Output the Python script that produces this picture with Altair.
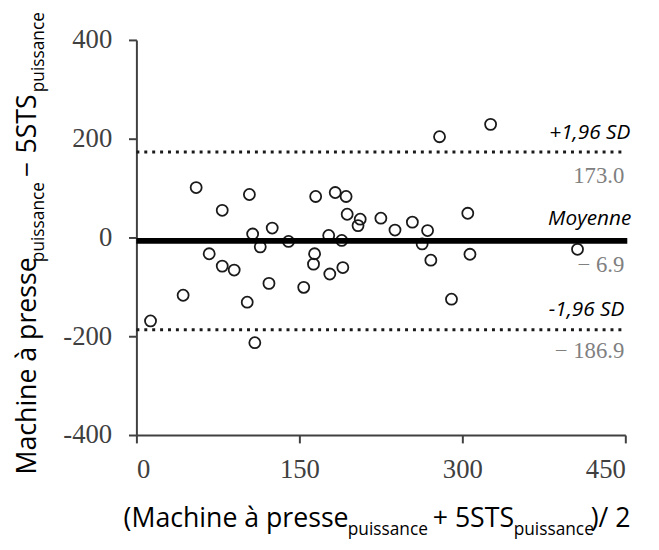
import altair as alt
import pandas as pd

# ---- data ----
avg_values = [55, 79, 104, 165, 183, 193, 194, 204, 206, 225, 238, 254,
              107, 125, 177, 189, 140, 114, 67, 79, 90, 43, 13, 102,
              109, 122, 154, 164, 163, 178, 190, 279, 326, 268, 263, 271,
              305, 307, 290, 406]
diff_values = [101, 55, 87, 83, 91, 83, 47, 24, 37, 39, 15, 31,
               7, 19, 4, -6, -8, -19, -33, -58, -66, -117, -169, -131,
               -213, -93, -101, -33, -54, -74, -61, 204, 229, 14, -13, -46,
               49, -34, -125, -24]
MEAN = -6.9
UPPER = 173.0
LOWER = -186.9
x_ticks = [0, 150, 300, 450]
y_ticks = [-400, -200, 0, 200, 400]

W, H = 495, 400
pts = pd.DataFrame({"avg": avg_values, "diff": diff_values})

xs = alt.Scale(domain=[0, 450], nice=False, zero=False)
ys = alt.Scale(domain=[-400, 400], nice=False, zero=False)
x_axis = alt.Axis(values=x_ticks, title=None, labelPadding=14, labelExpr="'' + datum.value")
y_axis = alt.Axis(values=y_ticks, title=None, labelPadding=17, labelExpr="'' + datum.value")

points = alt.Chart(pts).mark_point(
    shape="circle", filled=False, size=125, strokeWidth=1.8,
    color="#1a1a1a", opacity=1
).encode(
    x=alt.X("avg:Q", scale=xs, axis=x_axis),
    y=alt.Y("diff:Q", scale=ys, axis=y_axis),
)

mean_rule = alt.Chart(pd.DataFrame({"v": [MEAN]})).mark_rule(
    strokeWidth=6, color="#000000"
).encode(y=alt.Y("v:Q", scale=ys, axis=y_axis), x=alt.value(0), x2=alt.value(W + 2))

sd_rules = alt.Chart(pd.DataFrame({"v": [UPPER, LOWER]})).mark_rule(
    strokeWidth=3, strokeDash=[3, 5], color="#1a1a1a"
).encode(y=alt.Y("v:Q", scale=ys, axis=y_axis), x=alt.value(0), x2=alt.value(W))

layers = [points, sd_rules, mean_rule]

# labels of the reference lines
sd_labels = [("+1,96 SD", UPPER, -19, W + 5), ("Moyenne", MEAN, -22, W + 6), ("-1,96 SD", LOWER, -20, W - 1)]
num_labels = [("173.0", UPPER, 24, W - 1), ("− 6.9", MEAN, 25, W - 1), ("− 186.9", LOWER, 22, W - 1)]

for txt, v, dy, xr in sd_labels:
    layers.append(
        alt.Chart(pd.DataFrame({"v": [v], "t": [txt]})).mark_text(
            align="right", baseline="middle", dy=dy, font="Open Sans", fontSize=21,
            fontStyle="italic", color="#000000"
        ).encode(y=alt.Y("v:Q", scale=ys, axis=y_axis), x=alt.value(xr), text="t:N")
    )
for txt, v, dy, xr in num_labels:
    layers.append(
        alt.Chart(pd.DataFrame({"v": [v], "t": [txt]})).mark_text(
            align="right", baseline="middle", dy=dy, font="Liberation Serif", fontSize=23,
            color="#808080"
        ).encode(y=alt.Y("v:Q", scale=ys, axis=y_axis), x=alt.value(xr), text="t:N")
    )

# axis titles with subscripts (pieces)
BIG, SUB = 27, 17.5
x_title = [("(Machine à presse", -13, 493, BIG), ("puissance", 214, 501, SUB),
           ("+ 5STS", 300, 493, BIG), ("puissance", 382, 501, SUB), (")/ 2", 460, 493, BIG)]
y_title = [("Machine à presse", -102, 440, BIG), ("puissance", -94, 225, SUB),
           ("−", -102, 139, BIG), ("5STS", -102, 115, BIG), ("puissance", -94, 53, SUB)]

for txt, px, py, fs in x_title:
    layers.append(
        alt.Chart(pd.DataFrame({"t": [txt]})).mark_text(
            align="left", baseline="alphabetic", font="Open Sans", fontSize=fs, color="#000000"
        ).encode(x=alt.value(px), y=alt.value(py), text="t:N")
    )
for txt, px, py, fs in y_title:
    layers.append(
        alt.Chart(pd.DataFrame({"t": [txt]})).mark_text(
            align="left", baseline="alphabetic", font="Open Sans", fontSize=fs, angle=270,
            color="#000000"
        ).encode(x=alt.value(px), y=alt.value(py), text="t:N")
    )

chart = alt.layer(*layers).properties(
    width=W, height=H,
    autosize=alt.AutoSizeParams(type="none"),
    padding={"left": 130, "top": 29, "right": 26, "bottom": 105},
).configure_view(stroke=None).configure_axis(
    grid=False, domainColor="#404040", domainWidth=2, tickColor="#404040", tickWidth=2,
    tickSize=8, labelFont="Liberation Serif", labelFontSize=27, labelColor="#404040",
)

chart.save("out.html", embed_options={"renderer": "svg", "actions": False})
